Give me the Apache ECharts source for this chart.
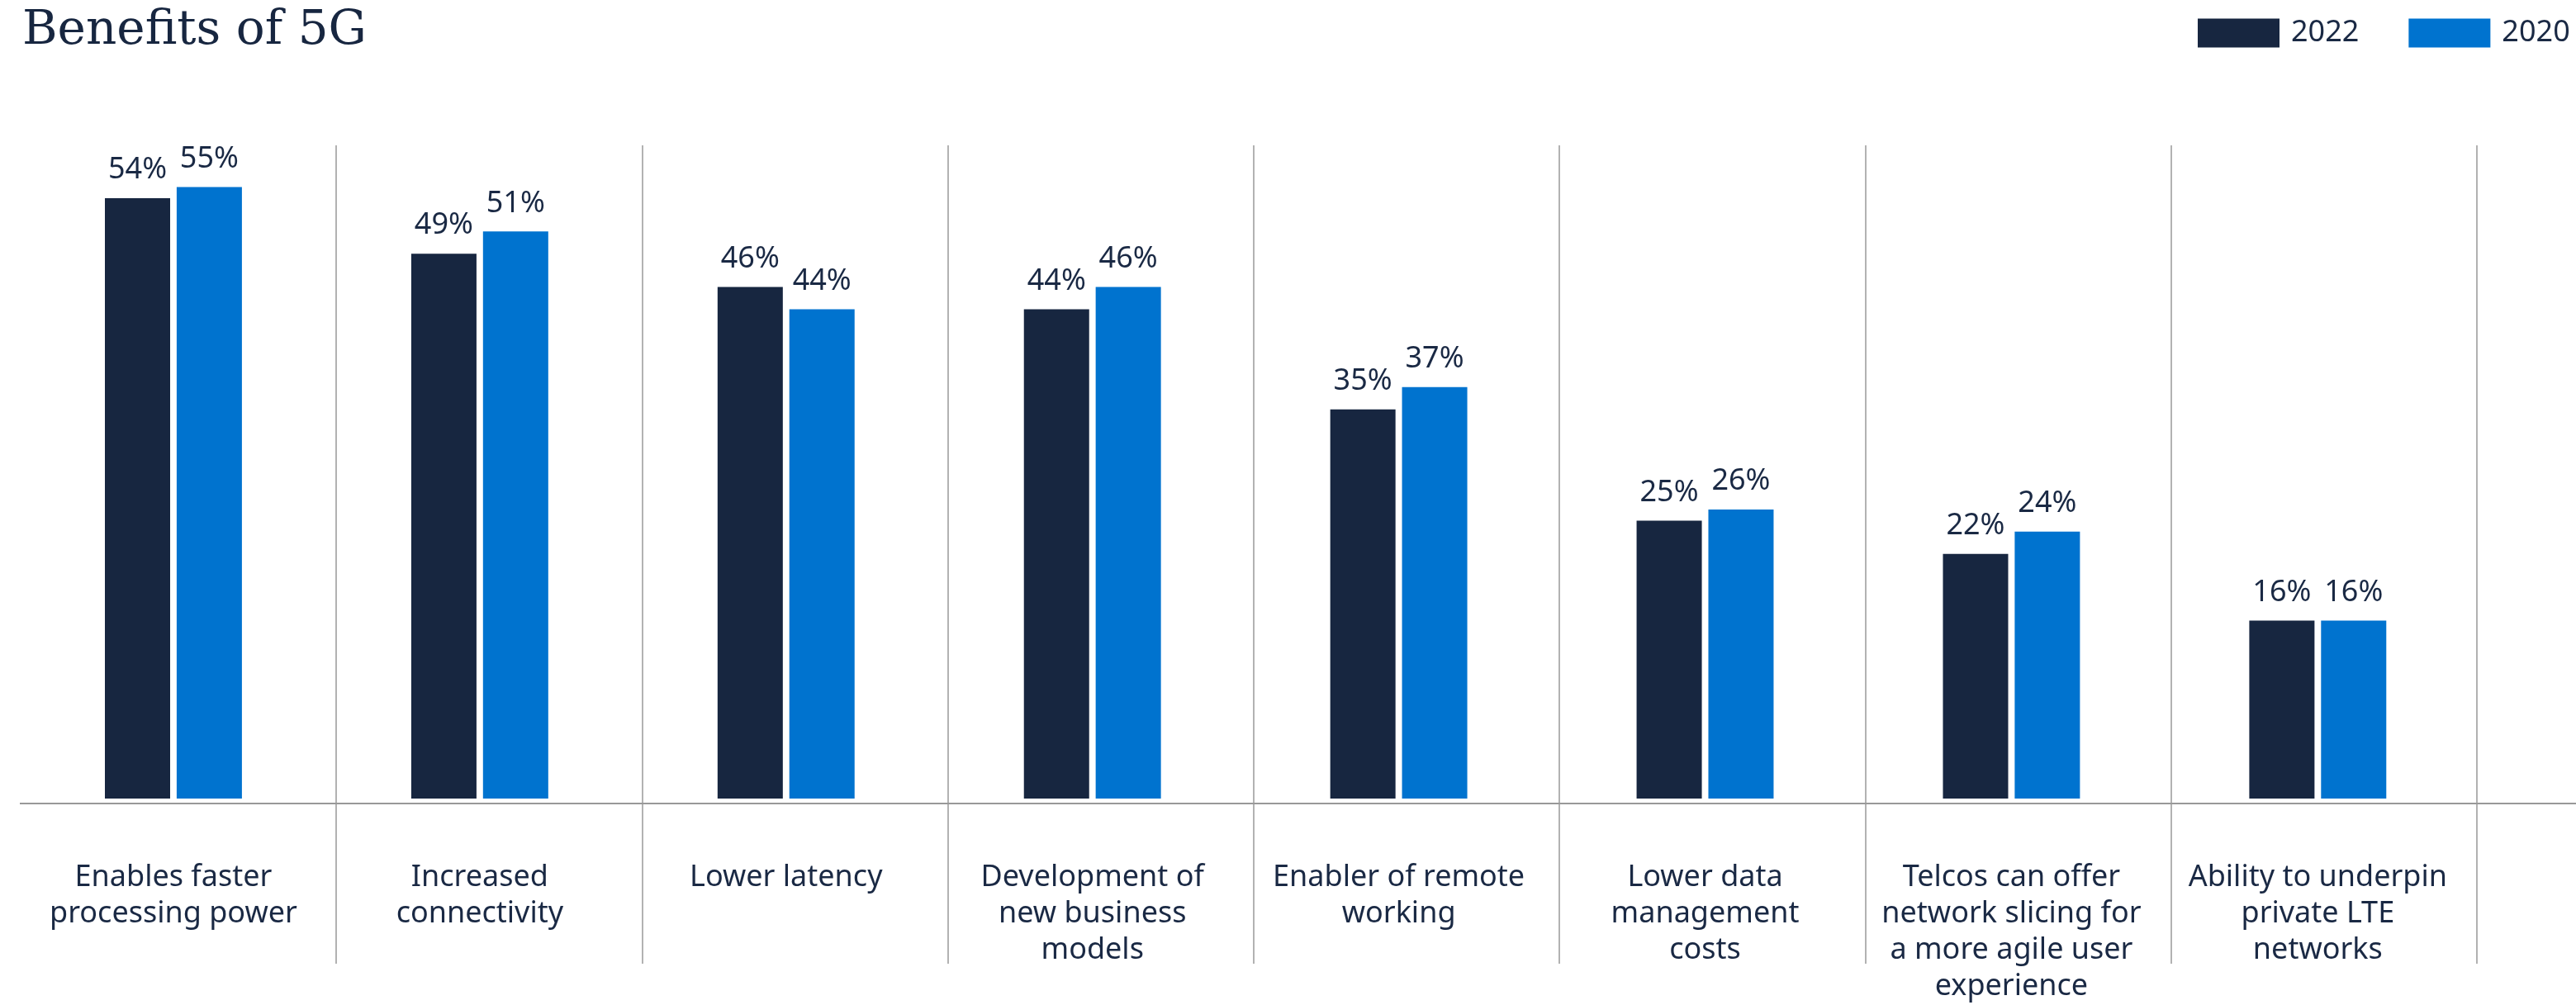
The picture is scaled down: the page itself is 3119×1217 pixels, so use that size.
<!DOCTYPE html>
<html>
<head>
<meta charset="utf-8">
<script src="https://cdn.jsdelivr.net/npm/echarts@6/dist/echarts.min.js"></script>
<style>
  html, body { margin: 0; padding: 0; background: #fff; }
  #chart { width: 3119px; height: 1217px; }
</style>
</head>
<body>
<div id="chart"></div>
<script>
  // data
  var categories = [
    'Enables faster\nprocessing power',
    'Increased\nconnectivity',
    'Lower latency',
    'Development of\nnew business\nmodels',
    'Enabler of remote\nworking',
    'Lower data\nmanagement\ncosts',
    'Telcos can offer\nnetwork slicing for\na more agile user\nexperience',
    'Ability to underpin\nprivate LTE\nnetworks'
  ];
  var values2022 = [54, 49, 46, 44, 35, 25, 22, 16];
  var values2020 = [55, 51, 44, 46, 37, 26, 24, 16];
  var seriesNames = ['2022', '2020'];

  var navy = '#172640';
  var blue = '#0073CF';
  var textColor = '#1a2944';
  var lineColor = '#999999';
  var font = '"Noto Sans", "Open Sans", sans-serif';

  var chart = echarts.init(document.getElementById('chart'), null, { renderer: 'canvas' });

  var valueLabel = {
    show: true,
    position: 'top',
    distance: 16,
    formatter: '{c}%',
    color: textColor,
    fontFamily: font,
    fontSize: 36
  };

  chart.setOption({
    animation: false,
    backgroundColor: '#ffffff',
    title: {
      text: 'Benefits of 5G',
      left: 22,
      top: 4,
      textStyle: {
        fontFamily: '"DejaVu Serif", serif',
        fontSize: 58,
        fontWeight: 'normal',
        color: navy
      }
    },
    legend: {
      left: 2661,
      top: 22,
      padding: 0,
      icon: 'rect',
      itemWidth: 99,
      itemHeight: 35,
      itemGap: 60,
      textStyle: { fontFamily: font, fontSize: 36, color: textColor, padding: [0, 0, 0, 9] },
      data: seriesNames
    },
    grid: [
      // bars
      { left: 24.5, right: 127.2, top: 159.1, bottom: 244.3, containLabel: false },
      // vertical separators
      { left: 407, right: 120, top: 176, bottom: 50, containLabel: false }
    ],
    xAxis: [
      {
        type: 'category',
        gridIndex: 0,
        data: categories,
        axisLine: { show: false },
        axisTick: { show: false },
        splitLine: { show: false },
        axisLabel: {
          interval: 0,
          margin: 74,
          color: textColor,
          fontFamily: font,
          fontSize: 36,
          lineHeight: 44,
          align: 'center',
          verticalAlign: 'top'
        }
      },
      {
        type: 'value',
        gridIndex: 1,
        min: 0,
        max: 7,
        interval: 1,
        axisLine: { show: false },
        axisTick: { show: false },
        axisLabel: { show: false },
        splitLine: { show: true, lineStyle: { color: lineColor, width: 1.5 } }
      }
    ],
    yAxis: [
      { type: 'value', gridIndex: 0, min: 0, max: 60, show: false, splitLine: { show: false } },
      { type: 'value', gridIndex: 1, min: 0, max: 1, show: false, splitLine: { show: false } }
    ],
    graphic: [
      {
        type: 'line',
        shape: { x1: 24, y1: 973, x2: 3119, y2: 973 },
        style: { stroke: lineColor, lineWidth: 2 },
        z: 10
      }
    ],
    series: [
      {
        name: seriesNames[0],
        type: 'bar',
        xAxisIndex: 0,
        yAxisIndex: 0,
        data: values2022,
        barWidth: 79,
        barGap: '10%',
        itemStyle: { color: navy },
        label: valueLabel
      },
      {
        name: seriesNames[1],
        type: 'bar',
        xAxisIndex: 0,
        yAxisIndex: 0,
        data: values2020,
        barWidth: 79,
        barGap: '10%',
        itemStyle: { color: blue },
        label: valueLabel
      }
    ]
  });
</script>
</body>
</html>
